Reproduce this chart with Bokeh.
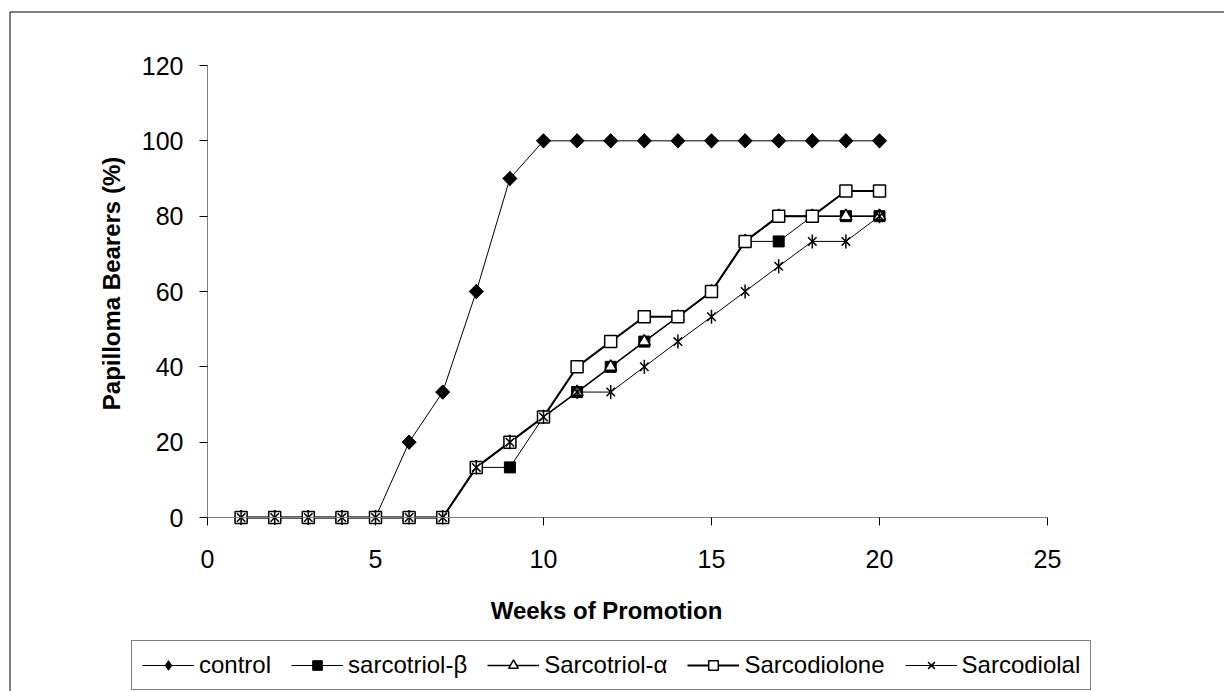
import math
from bokeh.plotting import figure
from bokeh.models import Range1d, FixedTicker, Legend, LegendItem, LinearAxis, Label, BoxAnnotation
from bokeh.embed import file_html
from bokeh.resources import INLINE

weeks = list(range(1, 21))
control = [0, 0, 0, 0, 0, 20, 33.3, 60, 90, 100, 100, 100, 100, 100, 100, 100, 100, 100, 100, 100]
sarcotriol_beta = [0, 0, 0, 0, 0, 0, 0, 13.3, 13.3, 26.7, 33.3, 40, 46.7, 53.3, 60, 73.3, 73.3, 80, 80, 80]
sarcotriol_alpha = [0, 0, 0, 0, 0, 0, 0, 13.3, 20, 26.7, 33.3, 40, 46.7, 53.3, 60, 73.3, 80, 80, 80, 80]
sarcodiolone = [0, 0, 0, 0, 0, 0, 0, 13.3, 20, 26.7, 40, 46.7, 53.3, 53.3, 60, 73.3, 80, 80, 86.7, 86.7]
sarcodiolal = [0, 0, 0, 0, 0, 0, 0, 13.3, 20, 26.7, 33.3, 33.3, 40, 46.7, 53.3, 60, 66.7, 73.3, 73.3, 80]
series_names = ["control", "sarcotriol-β", "Sarcotriol-α", "Sarcodiolone", "Sarcodiolal"]
x_ticks = [0, 5, 10, 15, 20, 25]
y_ticks = [0, 20, 40, 60, 80, 100, 120]
x_min, x_max = 0, 25
y_min, y_max = 0, 120
x_title = "Weeks of Promotion"
y_title = "Papilloma Bearers (%)"

FONT = "Liberation Sans"
W, H = 1224, 691
# plot-area placement on the page (pixels)
PL, PR, PT, PB = 207, 1047, 65, 517
sx = (PR - PL) / (x_max - x_min)
sy = (PB - PT) / (y_max - y_min)


def px_x(px):
    return x_min + (px - PL) / sx


def px_y(py):
    return y_min + (PB - py) / sy


p = figure(width=W, height=H, output_backend="svg", toolbar_location=None,
           x_range=Range1d(px_x(0), px_x(W)), y_range=Range1d(px_y(H), px_y(0)),
           x_axis_type=None, y_axis_type=None,
           min_border=0, min_border_left=0, min_border_right=0, min_border_top=0, min_border_bottom=0)
p.background_fill_color = "white"
p.border_fill_color = "white"
p.outline_line_color = None
p.grid.visible = False

xaxis = LinearAxis(fixed_location=0, bounds=(x_min, x_max), ticker=FixedTicker(ticks=x_ticks))
yaxis = LinearAxis(fixed_location=0, bounds=(y_min, y_max), ticker=FixedTicker(ticks=y_ticks))
for ax in (xaxis, yaxis):
    ax.axis_line_color = "#808080"
    ax.axis_line_width = 1
    ax.major_tick_line_color = "black"
    ax.major_tick_out = 8
    ax.major_tick_in = 0
    ax.minor_tick_line_color = None
    ax.major_label_text_font = FONT
    ax.major_label_text_font_size = "25px"
    ax.major_label_text_color = "black"
xaxis.major_label_standoff = 24
yaxis.major_label_standoff = 16
p.add_layout(xaxis, "below")
p.add_layout(yaxis, "left")

p.add_layout(Label(x=px_x(606), y=px_y(610), text=x_title, text_align="center",
                   text_baseline="middle", text_font=FONT, text_font_size="24px",
                   text_font_style="bold", text_color="black"))
p.add_layout(Label(x=px_x(111), y=px_y(283), text=y_title, angle=math.pi / 2,
                   text_align="center", text_baseline="middle", text_font=FONT,
                   text_font_size="24px", text_font_style="bold", text_color="black"))

# chart-area border (left and top edges visible)
p.add_layout(BoxAnnotation(left=px_x(9.5), top=px_y(11.5), right=px_x(W + 20), bottom=px_y(H + 20),
                           fill_alpha=0, line_color="black", line_alpha=1, line_width=1))

items = []
specs = [
    (control, [("diamond", 14, "black", 0, True), ("square", 10, "black", math.pi / 4, False)], 1.0),
    (sarcotriol_beta, [("square", 11, "black", 0, True)], 1.0),
    (sarcotriol_alpha, [("triangle", 12, "white", 0, True)], 1.5),
    (sarcodiolone, [("square", 12, "white", 0, True)], 2.0),
    (sarcodiolal, [("x", 12, None, 0, True), ("dash", 14, None, math.pi / 2, False)], 1.0),
]
for name, (vals, markers, lw) in zip(series_names, specs):
    rs = [p.line(weeks, vals, line_color="black", line_width=lw)]
    for marker, size, fill, ang, in_legend in markers:
        r = p.scatter(weeks, vals, marker=marker, size=size, fill_color=fill, angle=ang,
                      line_color="black", line_width=1.5 if fill != "black" else 1)
        if in_legend:
            rs.append(r)
    items.append(LegendItem(label=name, renderers=rs))

legend = Legend(items=items, orientation="horizontal", location=(131, 1))
legend.label_text_font = FONT
legend.label_text_font_size = "24px"
legend.label_text_color = "black"
legend.glyph_width = 52
legend.glyph_height = 24
legend.spacing = 20
legend.padding = 10
legend.label_standoff = 5
legend.border_line_color = "black"
legend.border_line_width = 1
legend.background_fill_alpha = 1
legend.margin = 0
p.add_layout(legend, "center")

open("out.html", "w").write(file_html(p, INLINE))
